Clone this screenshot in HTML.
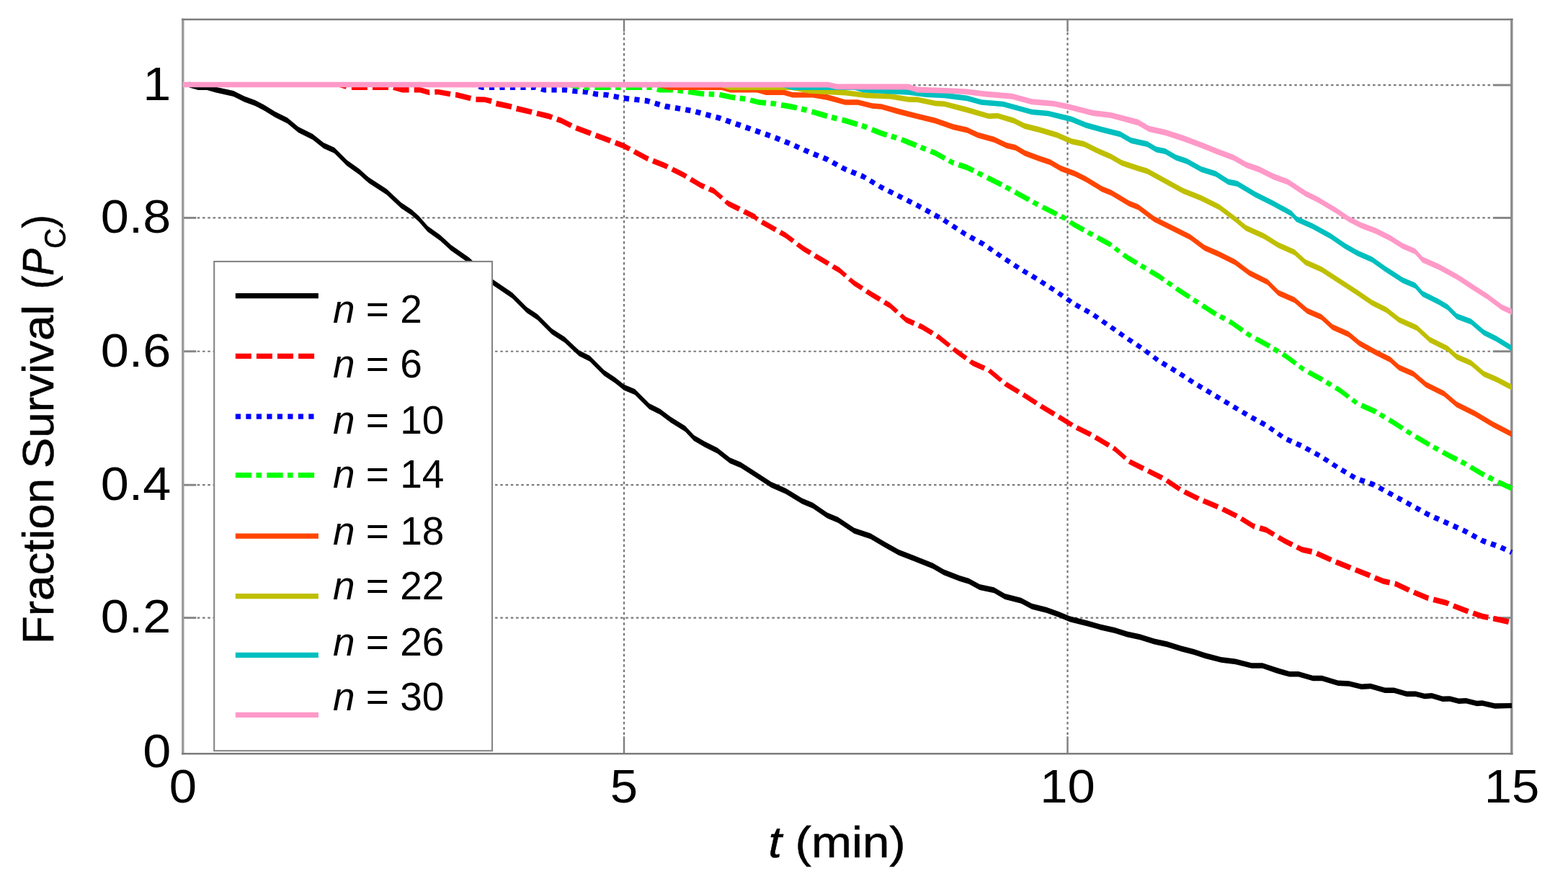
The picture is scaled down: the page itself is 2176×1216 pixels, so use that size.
<!DOCTYPE html>
<html lang="en">
<head>
<meta charset="utf-8">
<title>Fraction Survival vs t</title>
<style>
html,body{margin:0;padding:0;background:#fff;}
body{width:2176px;height:1216px;overflow:hidden;}
svg{display:block;}
text{font-family:"Liberation Sans",sans-serif;fill:#000;}
.tick{font-size:65px;}
.lab{font-size:62px;stroke:#000;stroke-width:0.5px;}
.leg{font-size:55px;}
.it{font-style:italic;}
</style>
</head>
<body>
<svg width="2176" height="1216" viewBox="0 0 2176 1216">
<rect x="0" y="0" width="2176" height="1216" fill="#ffffff"/>
<defs><clipPath id="plot"><rect x="252.60000000000002" y="27.0" width="1846.6000000000001" height="1019.3"/></clipPath></defs>

<g fill="none" stroke="#7a7a7a" stroke-width="2.2" stroke-dasharray="3.5 3.75">
<line x1="273.8" y1="118.1" x2="2071.8" y2="118.1"/>
<line x1="273.8" y1="302.4" x2="2071.8" y2="302.4"/>
<line x1="273.8" y1="487.75" x2="2071.8" y2="487.75"/>
<line x1="273.8" y1="673.2" x2="2071.8" y2="673.2"/>
<line x1="273.8" y1="857.6" x2="2071.8" y2="857.6"/>
</g>
<g fill="none" stroke="#747474" stroke-width="2.2" stroke-dasharray="3.4 3.85">
<line x1="866.0" y1="45.0" x2="866.0" y2="1022.3"/>
<line x1="1481.5" y1="45.0" x2="1481.5" y2="1022.3"/>
</g>
<g fill="none" stroke="#858585" stroke-width="2.9">
<line x1="253.8" y1="118.1" x2="272.3" y2="118.1"/>
<line x1="2071.8" y1="118.1" x2="2097.8" y2="118.1"/>
<line x1="253.8" y1="302.4" x2="272.3" y2="302.4"/>
<line x1="2071.8" y1="302.4" x2="2097.8" y2="302.4"/>
<line x1="253.8" y1="487.75" x2="272.3" y2="487.75"/>
<line x1="2071.8" y1="487.75" x2="2097.8" y2="487.75"/>
<line x1="253.8" y1="673.2" x2="272.3" y2="673.2"/>
<line x1="2071.8" y1="673.2" x2="2097.8" y2="673.2"/>
<line x1="253.8" y1="857.6" x2="272.3" y2="857.6"/>
<line x1="2071.8" y1="857.6" x2="2097.8" y2="857.6"/>
</g>
<g fill="none" stroke="#7d7d7d" stroke-width="2.4">
<line x1="866.0" y1="27.0" x2="866.0" y2="44.0"/>
<line x1="866.0" y1="1022.3" x2="866.0" y2="1046.3"/>
<line x1="1481.5" y1="27.0" x2="1481.5" y2="44.0"/>
<line x1="1481.5" y1="1022.3" x2="1481.5" y2="1046.3"/>
</g>
<line x1="253.8" y1="25.7" x2="253.8" y2="1047.6" stroke="#9a9a9a" stroke-width="3.4"/>
<line x1="2097.8" y1="25.7" x2="2097.8" y2="1047.6" stroke="#8c8c8c" stroke-width="3.4"/>
<line x1="252.10000000000002" y1="27.0" x2="2099.5" y2="27.0" stroke="#7c7c7c" stroke-width="2.6"/>
<line x1="252.10000000000002" y1="1046.3" x2="2099.5" y2="1046.3" stroke="#7c7c7c" stroke-width="2.6"/>
<g clip-path="url(#plot)" stroke="none">
<polygon fill="#000000" points="262.7,113.6 275.0,117.4 287.3,117.4 299.6,120.7 324.0,126.0 339.0,133.5 354.0,139.0 366.5,145.5 381.5,154.8 399.0,163.5 414.0,176.0 434.0,186.0 449.0,198.0 464.0,204.8 481.5,222.3 499.0,234.8 511.5,246.0 536.5,262.3 556.5,281.0 571.5,291.0 581.5,300.0 593.5,313.8 611.0,326.3 626.0,340.0 651.0,357.5 683.5,387.5 711.0,406.3 731.0,426.3 746.0,436.3 766.0,456.3 783.5,467.5 803.5,486.3 818.5,493.8 838.5,513.8 853.5,523.8 866.0,533.8 881.0,540.0 901.0,560.0 916.0,567.5 931.0,578.8 951.0,591.3 963.0,604.0 978.0,612.8 995.5,621.5 1013.0,635.3 1028.0,641.5 1045.5,652.8 1070.5,669.0 1090.5,677.8 1113.0,691.5 1128.0,697.8 1148.0,711.5 1163.0,717.8 1185.5,732.8 1208.0,740.3 1227.0,751.5 1247.0,762.8 1269.5,771.5 1294.5,781.5 1309.5,790.3 1332.0,799.0 1344.5,802.8 1359.5,811.0 1379.5,815.3 1394.5,824.0 1417.0,829.8 1432.0,837.8 1452.0,842.8 1469.5,849.0 1484.5,855.3 1509.5,861.5 1527.0,866.6 1547.0,871.0 1564.5,876.5 1582.0,880.3 1602.0,886.5 1619.5,890.3 1639.5,896.5 1657.0,901.0 1672.0,906.0 1694.5,911.9 1714.5,914.4 1737.0,920.2 1752.0,920.2 1772.0,926.8 1789.5,932.0 1802.0,932.0 1822.0,937.7 1834.5,937.7 1857.0,944.5 1872.0,945.2 1889.5,949.6 1902.0,948.7 1922.0,954.5 1934.5,954.5 1952.0,959.5 1964.5,959.5 1977.0,962.8 1987.0,962.0 2002.0,966.5 2012.0,966.2 2024.5,969.6 2034.5,969.1 2049.5,972.8 2057.0,972.3 2074.5,976.3 2098.0,975.9 2098.0,983.1 2074.5,983.7 2057.0,979.7 2049.5,980.2 2034.5,976.5 2024.5,977.0 2012.0,973.8 2002.0,974.1 1987.0,969.6 1977.0,970.2 1964.5,967.1 1952.0,967.1 1934.5,962.1 1922.0,962.1 1902.0,956.3 1889.5,957.0 1872.0,952.8 1857.0,952.1 1834.5,945.3 1822.0,945.3 1802.0,939.6 1789.5,939.6 1772.0,934.8 1752.0,927.8 1737.0,927.8 1714.5,922.2 1694.5,919.7 1672.0,914.0 1657.0,909.0 1639.5,904.5 1619.5,898.3 1602.0,894.5 1582.0,888.3 1564.5,884.5 1547.0,879.0 1527.0,874.4 1509.5,869.5 1484.5,863.3 1469.5,857.0 1452.0,850.8 1432.0,845.8 1417.0,837.8 1394.5,832.0 1379.5,823.3 1359.5,819.0 1344.5,810.8 1332.0,807.0 1309.5,798.3 1294.5,789.5 1269.5,779.5 1247.0,770.8 1227.0,759.5 1208.0,748.3 1185.5,740.8 1163.0,725.8 1148.0,719.5 1128.0,705.8 1113.0,699.5 1090.5,685.8 1070.5,677.0 1045.5,660.8 1028.0,649.5 1013.0,643.3 995.5,629.5 978.0,620.8 963.0,612.0 951.0,599.3 931.0,586.8 916.0,575.5 901.0,568.0 881.0,548.0 866.0,541.8 853.5,531.8 838.5,521.8 818.5,501.8 803.5,494.3 783.5,475.5 766.0,464.3 746.0,444.3 731.0,434.3 711.0,414.3 683.5,395.5 651.0,365.5 626.0,348.0 611.0,334.3 593.5,321.8 581.5,308.0 571.5,299.0 556.5,289.0 536.5,270.3 511.5,254.0 499.0,242.8 481.5,230.3 464.0,212.8 449.0,206.0 434.0,194.0 414.0,184.0 399.0,171.5 381.5,162.8 366.5,153.5 354.0,147.0 339.0,141.5 324.0,134.0 299.6,128.5 287.3,124.9 275.0,124.9 262.7,121.6"/>
<path fill="#ff0000" d="M473.5 114.2 481.9 116.7 479.9 123.7 471.5 121.2ZM487.9 117.4 509.9 117.4 509.9 124.9 487.9 124.9ZM517.0 117.4 539.0 117.4 539.0 124.9 517.0 124.9ZM547.1 117.7 558.2 120.9 567.6 120.9 567.6 128.5 558.2 128.5 545.1 124.7ZM574.7 120.9 582.8 120.9 595.1 124.5 596.0 124.5 596.4 131.9 595.1 132.0 582.8 128.5 574.7 128.5ZM603.1 124.1 608.0 123.9 625.7 127.0 624.3 134.3 608.0 131.3 603.5 131.5ZM632.4 127.6 632.2 127.6 654.3 133.0 652.5 140.3 632.2 135.2 631.7 135.2ZM660.5 134.3 672.7 134.4 683.0 136.8 681.2 144.3 672.7 142.0 660.3 141.7ZM689.3 139.8 710.8 144.4 709.2 152.1 687.7 147.4ZM717.6 146.8 739.0 151.9 737.2 159.3 715.8 154.4ZM745.9 153.7 746.3 153.8 762.0 157.5 767.5 159.4 765.0 166.5 762.0 165.5 746.3 161.6 744.0 161.1ZM774.2 161.8 779.0 163.5 794.5 171.3 791.3 177.7 779.0 171.5 771.7 168.9ZM800.6 174.0 821.3 181.7 818.6 188.7 798.0 181.0ZM827.9 184.2 848.5 192.0 845.8 199.0 825.3 191.2ZM855.1 194.5 865.5 198.5 875.5 203.9 872.2 210.1 865.5 206.5 852.5 201.5ZM881.8 207.3 898.0 216.0 900.9 217.2 898.2 224.1 898.0 224.0 878.4 213.5ZM907.5 219.8 923.0 226.0 928.0 228.5 924.8 234.9 923.0 234.0 904.7 226.7ZM934.4 231.7 948.0 238.5 954.0 242.1 950.5 248.0 948.0 246.5 931.2 238.1ZM960.1 245.8 973.0 253.5 979.0 256.1 976.1 262.8 973.0 261.5 956.6 251.7ZM985.5 258.9 990.5 261.0 1003.8 272.6 999.8 277.1 990.5 269.0 982.6 265.6ZM1009.1 277.3 1010.5 278.5 1027.8 287.1 1024.5 293.5 1010.5 286.5 1005.1 281.8ZM1034.1 290.3 1048.0 297.3 1050.0 300.0 1052.8 301.6 1049.4 307.7 1050.0 308.0 1048.0 305.3 1030.9 296.7ZM1059.0 305.1 1078.2 315.9 1074.8 321.9 1055.6 311.2ZM1084.4 319.3 1090.0 322.5 1102.8 332.1 1098.9 337.2 1090.0 330.5 1081.0 325.4ZM1108.5 336.4 1115.0 341.3 1126.6 348.2 1123.0 354.1 1115.0 349.3 1104.6 341.5ZM1132.6 351.9 1140.0 356.3 1151.5 363.2 1148.0 369.1 1140.0 364.3 1129.1 357.8ZM1157.6 366.9 1165.0 371.3 1175.5 380.5 1171.5 385.0 1165.0 379.3 1154.1 372.7ZM1180.8 385.2 1185.0 388.8 1198.4 397.5 1194.8 403.1 1185.0 396.8 1176.9 389.7ZM1204.4 401.4 1210.0 405.0 1223.0 412.8 1219.5 418.7 1210.0 413.0 1200.7 407.0ZM1229.1 416.5 1235.0 420.0 1246.8 430.5 1242.8 434.9 1235.0 428.0 1225.6 422.4ZM1252.1 435.2 1257.5 440.0 1270.0 445.6 1267.1 452.2 1257.5 448.0 1248.1 439.6ZM1276.5 448.5 1280.0 450.0 1295.9 459.8 1292.3 465.6 1280.0 458.0 1273.5 455.1ZM1302.0 463.5 1302.5 463.8 1319.5 477.4 1315.6 482.3 1302.5 471.8 1298.4 469.3ZM1325.0 481.8 1327.5 483.8 1342.7 494.7 1338.9 500.0 1327.5 491.8 1321.1 486.7ZM1348.4 498.9 1350.0 500.0 1367.7 507.9 1364.7 514.5 1350.0 508.0 1344.6 504.1ZM1374.6 511.8 1391.5 525.9 1387.6 530.6 1370.7 516.5ZM1397.0 530.4 1395.0 528.8 1415.6 541.2 1412.1 547.1 1395.0 536.8 1393.0 535.1ZM1421.7 544.8 1420.0 543.8 1440.2 556.9 1436.6 562.5 1420.0 551.8 1418.2 550.7ZM1446.2 560.8 1445.0 560.0 1465.0 572.0 1461.5 577.9 1445.0 568.0 1442.5 566.4ZM1471.1 575.6 1470.0 575.0 1489.8 587.4 1486.2 593.1 1470.0 583.0 1467.5 581.5ZM1495.8 590.4 1515.5 600.2 1512.3 606.6 1492.6 596.8ZM1521.8 604.0 1540.7 615.3 1537.2 621.2 1518.3 609.9ZM1546.8 618.9 1547.0 619.0 1563.8 633.7 1559.9 638.3 1547.0 627.0 1543.3 624.8ZM1568.8 637.4 1588.5 647.3 1585.3 653.7 1565.6 643.8ZM1594.9 650.4 1614.5 660.3 1611.3 666.7 1591.7 656.8ZM1621.0 664.2 1639.3 676.4 1635.6 681.9 1617.3 669.7ZM1645.2 679.4 1664.9 689.2 1661.7 695.6 1642.0 685.8ZM1671.2 691.8 1691.6 700.3 1688.7 707.1 1668.4 698.6ZM1698.2 703.4 1717.9 713.2 1714.7 719.6 1695.0 709.8ZM1724.3 717.0 1739.5 726.5 1742.4 727.3 1740.3 734.7 1739.5 734.5 1720.7 722.7ZM1749.2 729.3 1757.0 731.5 1769.8 739.2 1766.2 745.0 1757.0 739.5 1747.1 736.7ZM1775.9 742.8 1782.0 746.5 1795.0 753.0 1791.8 759.4 1782.0 754.5 1772.3 748.7ZM1801.4 756.2 1807.0 759.0 1821.4 762.1 1819.8 769.8 1807.0 767.0 1798.2 762.6ZM1828.8 764.8 1848.9 773.9 1845.9 780.5 1825.8 771.4ZM1855.2 776.6 1875.7 784.8 1872.9 791.7 1852.5 783.5ZM1882.3 787.4 1902.7 795.6 1899.9 802.5 1879.5 794.3ZM1909.3 798.4 1919.5 802.8 1929.4 804.9 1927.8 812.6 1919.5 810.8 1906.4 805.2ZM1936.4 806.4 1937.0 806.5 1957.1 816.0 1954.0 822.6 1937.0 814.5 1934.8 814.0ZM1963.5 818.7 1982.0 826.5 1983.3 826.8 1981.4 834.4 1982.0 834.5 1960.6 825.5ZM1990.2 828.6 2007.0 832.8 2011.8 834.7 2009.0 841.6 2007.0 840.8 1988.3 836.1ZM2018.4 837.4 2032.0 842.8 2038.8 845.2 2036.3 852.3 2032.0 850.8 2015.6 844.3ZM2045.5 847.5 2057.0 851.5 2066.1 853.4 2064.6 861.0 2057.0 859.5 2043.0 854.6ZM2073.0 854.8 2082.0 856.6 2094.7 859.6 2092.9 867.0 2082.0 864.4 2071.5 862.3Z"/>
<path fill="#0000ff" d="M658.2 114.2 658.6 114.3 656.6 121.4 656.2 121.2ZM665.6 116.4 669.0 117.4 671.6 117.4 671.6 124.9 669.0 124.9 663.6 123.4ZM678.9 117.4 686.1 117.4 686.1 124.9 678.9 124.9ZM693.4 117.4 700.6 117.4 700.6 124.9 693.4 124.9ZM707.9 117.4 715.1 117.4 715.1 124.9 707.9 124.9ZM722.4 117.4 729.6 117.4 729.6 124.9 722.4 124.9ZM736.9 117.4 742.9 117.4 745.1 118.0 743.0 125.0 742.9 124.9 736.9 124.9ZM752.1 120.0 755.2 120.9 758.1 120.9 758.1 128.5 755.2 128.5 750.1 127.0ZM765.4 121.0 772.6 121.0 772.6 128.5 765.4 128.5ZM779.9 121.1 784.0 121.1 787.5 121.5 786.7 128.8 784.0 128.5 779.9 128.5ZM794.8 122.4 798.5 122.8 801.7 123.0 801.3 130.4 798.5 130.2 793.9 129.7ZM809.0 123.4 812.9 123.6 816.7 124.5 815.1 131.7 812.9 131.2 808.5 130.9ZM823.8 126.1 827.0 126.8 830.4 127.1 829.8 134.6 827.0 134.4 822.2 133.3ZM837.7 127.7 841.9 128.0 845.2 128.6 843.8 135.9 841.9 135.6 837.1 135.2ZM852.4 130.0 859.5 131.4 858.1 138.7 851.0 137.3ZM866.4 132.6 873.5 133.4 872.7 140.9 865.5 140.1ZM880.8 134.2 887.9 135.0 887.1 142.6 879.9 141.8ZM895.2 135.8 898.0 136.1 902.8 137.6 900.7 144.7 898.0 143.9 894.3 143.4ZM909.8 139.7 916.7 141.7 914.6 148.9 907.7 146.8ZM923.7 143.8 923.0 143.6 930.4 144.8 929.1 152.4 923.0 151.4 921.6 151.0ZM937.6 146.0 944.7 147.2 943.4 154.8 936.3 153.6ZM951.9 148.5 959.0 149.7 957.7 157.2 950.6 156.0ZM966.4 151.5 973.4 153.3 971.4 160.6 964.5 158.8ZM980.4 155.2 987.4 157.0 985.4 164.4 978.5 162.5ZM994.4 158.9 998.0 159.8 1001.6 161.1 999.1 168.2 998.0 167.8 992.5 166.3ZM1008.5 163.5 1015.3 165.8 1012.8 173.0 1006.0 170.6ZM1022.2 168.2 1023.0 168.5 1029.0 170.6 1026.5 177.7 1023.0 176.5 1019.7 175.4ZM1035.9 173.0 1042.7 175.4 1040.2 182.5 1033.4 180.2ZM1049.5 177.8 1056.3 180.2 1053.9 187.3 1047.1 185.0ZM1063.2 182.6 1070.0 185.0 1067.6 192.1 1060.8 189.7ZM1077.0 187.6 1083.7 190.3 1080.9 197.2 1074.3 194.5ZM1090.5 193.0 1097.2 195.7 1094.4 202.6 1087.7 199.9ZM1104.0 198.7 1110.5 201.7 1107.5 208.3 1101.0 205.3ZM1117.2 204.7 1123.8 207.6 1120.8 214.3 1114.2 211.3ZM1130.4 210.3 1137.1 212.9 1134.3 219.8 1127.6 217.2ZM1143.9 215.6 1148.0 217.3 1150.8 218.8 1147.4 225.0 1148.0 225.3 1141.1 222.5ZM1157.2 222.3 1163.5 225.8 1160.1 232.0 1153.8 228.5ZM1169.9 229.3 1173.0 231.0 1176.0 232.2 1173.2 239.1 1173.0 239.0 1166.5 235.5ZM1182.8 234.9 1189.5 237.6 1186.7 244.5 1180.0 241.8ZM1196.2 240.3 1198.0 241.0 1203.0 244.0 1199.5 249.9 1198.0 249.0 1193.5 247.2ZM1209.3 247.8 1215.5 251.5 1212.0 257.4 1205.8 253.7ZM1221.7 255.2 1223.0 256.0 1227.9 258.4 1224.7 264.8 1223.0 264.0 1218.2 261.1ZM1234.4 261.7 1240.9 264.9 1237.7 271.3 1231.2 268.1ZM1247.4 268.2 1248.0 268.5 1253.8 271.4 1250.6 277.8 1248.0 276.5 1244.2 274.6ZM1260.4 274.7 1266.8 277.9 1263.6 284.3 1257.2 281.1ZM1273.3 281.2 1273.0 281.0 1279.7 284.7 1276.4 290.9 1273.0 289.0 1270.1 287.6ZM1286.1 288.3 1292.4 291.7 1289.1 297.9 1282.8 294.4ZM1298.8 295.3 1298.0 294.8 1305.1 298.7 1301.8 304.9 1298.0 302.8 1295.4 301.4ZM1311.6 302.7 1317.6 306.6 1313.9 312.2 1307.9 308.3ZM1323.7 310.6 1329.7 314.6 1326.1 320.2 1320.0 316.2ZM1335.8 318.6 1340.0 321.3 1341.7 322.2 1338.3 328.4 1340.0 329.3 1332.2 324.2ZM1348.1 325.7 1354.4 329.2 1351.1 335.4 1344.7 331.9ZM1360.8 332.7 1365.0 335.0 1367.3 336.6 1363.5 342.0 1365.0 343.0 1357.5 338.9ZM1373.3 340.8 1379.2 344.9 1375.4 350.3 1369.5 346.2ZM1385.2 349.1 1391.1 353.2 1387.3 358.6 1381.4 354.5ZM1397.1 357.1 1403.1 361.1 1399.5 366.7 1393.4 362.7ZM1409.3 365.1 1415.3 369.0 1411.6 374.6 1405.6 370.7ZM1421.4 372.7 1427.6 376.4 1424.1 382.3 1417.9 378.5ZM1433.9 380.1 1440.1 383.8 1436.5 389.7 1430.3 386.0ZM1446.3 387.9 1452.3 391.8 1448.7 397.4 1442.6 393.5ZM1458.4 395.8 1464.5 399.7 1460.8 405.3 1454.8 401.4ZM1470.6 403.9 1476.5 408.0 1472.7 413.4 1466.8 409.3ZM1482.5 412.2 1488.4 416.3 1484.6 421.7 1478.7 417.6ZM1494.3 419.9 1500.6 423.4 1497.2 429.5 1490.9 426.0ZM1507.0 426.9 1513.3 430.4 1509.9 436.5 1503.6 433.0ZM1519.7 434.6 1525.6 438.7 1521.8 444.1 1515.9 440.0ZM1531.6 442.9 1537.5 447.0 1533.7 452.4 1527.8 448.3ZM1543.5 451.2 1549.4 455.3 1545.6 460.7 1539.7 456.6ZM1555.3 459.5 1561.2 463.7 1557.5 469.0 1551.6 464.9ZM1567.2 467.7 1573.2 471.7 1569.5 477.3 1563.5 473.3ZM1579.3 475.7 1585.3 479.7 1581.6 485.2 1575.6 481.3ZM1591.3 484.2 1597.0 488.5 1593.2 493.7 1587.4 489.4ZM1602.9 492.9 1608.6 497.2 1604.8 502.4 1599.0 498.0ZM1614.6 500.8 1620.8 504.6 1617.2 510.4 1611.0 506.7ZM1627.0 508.3 1633.2 512.0 1629.7 517.9 1623.5 514.2ZM1639.4 516.0 1645.5 520.0 1641.8 525.6 1635.8 521.7ZM1651.6 524.0 1657.6 527.9 1653.9 533.5 1647.9 529.6ZM1663.7 531.6 1669.9 535.3 1666.4 541.2 1660.2 537.5ZM1676.2 539.1 1682.3 542.8 1678.8 548.7 1672.6 545.0ZM1688.6 546.6 1694.8 550.3 1691.2 556.1 1685.1 552.4ZM1701.0 554.0 1707.2 557.7 1703.7 563.6 1697.5 559.9ZM1713.5 561.5 1719.6 565.2 1716.1 571.1 1709.9 567.4ZM1725.9 568.9 1732.1 572.6 1728.5 578.5 1722.4 574.8ZM1738.3 576.2 1744.6 579.6 1741.2 585.8 1734.9 582.3ZM1751.0 583.1 1757.3 586.6 1754.0 592.7 1747.6 589.3ZM1763.7 590.9 1769.6 595.1 1765.8 600.4 1759.9 596.2ZM1775.5 599.3 1781.3 603.5 1777.6 608.8 1771.7 604.6ZM1787.3 606.4 1793.9 609.4 1790.9 616.0 1784.3 613.0ZM1800.5 612.4 1807.1 615.3 1804.1 622.0 1797.5 619.0ZM1813.7 619.0 1820.0 622.4 1816.7 628.6 1810.3 625.1ZM1826.4 625.9 1832.7 629.4 1829.4 635.6 1823.1 632.1ZM1839.0 633.6 1845.1 637.5 1841.4 643.1 1835.4 639.2ZM1851.2 641.5 1857.2 645.4 1853.6 651.1 1847.5 647.1ZM1863.4 649.1 1869.6 652.8 1866.0 658.7 1859.8 655.0ZM1875.8 656.6 1882.0 660.3 1878.5 666.2 1872.3 662.5ZM1888.2 662.4 1895.0 664.8 1892.5 672.0 1885.7 669.6ZM1901.9 667.2 1907.0 669.0 1909.1 670.2 1905.7 676.3 1907.0 677.0 1899.4 674.4ZM1915.5 673.7 1921.8 677.2 1918.4 683.3 1912.1 679.8ZM1928.2 680.7 1932.0 682.8 1934.5 684.2 1931.1 690.3 1932.0 690.8 1924.8 686.8ZM1940.9 687.7 1947.2 691.1 1943.8 697.3 1937.5 693.8ZM1953.6 694.6 1957.0 696.5 1959.9 698.1 1956.5 704.2 1957.0 704.5 1950.2 700.8ZM1966.3 701.6 1972.6 705.1 1969.2 711.2 1962.9 707.8ZM1979.0 708.6 1982.0 710.3 1985.2 711.7 1982.2 718.4 1982.0 718.3 1975.6 714.8ZM1991.8 714.7 1998.4 717.6 1995.4 724.3 1988.8 721.4ZM2005.1 720.6 2007.0 721.5 2011.6 723.6 2008.6 730.2 2007.0 729.5 2002.1 727.3ZM2018.3 726.6 2024.9 729.6 2021.8 736.2 2015.3 733.2ZM2031.5 732.6 2032.0 732.8 2038.1 736.1 2034.7 742.3 2032.0 740.8 2028.5 739.2ZM2044.5 739.6 2050.8 743.1 2047.4 749.3 2041.1 745.8ZM2057.2 746.6 2057.0 746.5 2063.4 748.8 2060.9 755.9 2057.0 754.5 2053.8 752.8ZM2070.3 751.2 2077.1 753.6 2074.6 760.7 2067.8 758.3ZM2084.3 756.4 2090.8 759.4 2087.7 766.0 2081.2 762.9ZM2097.4 762.5 2099.5 763.5 2096.5 770.1 2094.3 769.1Z"/>
<path fill="#00ff00" d="M793.6 114.2 805.1 117.6 803.1 124.6 791.6 121.2ZM810.5 117.4 818.1 117.4 818.1 124.9 810.5 124.9ZM825.3 117.4 847.6 117.4 847.6 124.9 825.3 124.9ZM854.0 117.4 861.6 117.4 861.6 124.9 854.0 124.9ZM868.8 117.4 891.1 117.4 891.1 124.9 868.8 124.9ZM897.5 117.4 902.9 117.4 906.0 118.2 904.0 125.3 902.9 124.9 897.5 124.9ZM912.9 120.2 915.2 120.9 934.0 121.1 934.5 121.2 933.7 128.4 934.0 128.5 915.2 128.5 910.9 127.2ZM940.9 121.8 948.0 122.5 948.6 122.6 947.5 130.0 948.0 130.1 940.1 129.2ZM955.7 123.7 973.0 126.3 977.4 126.5 977.0 134.0 973.0 133.7 954.6 131.0ZM983.8 126.8 991.4 127.2 991.0 134.7 983.4 134.3ZM999.2 127.8 1015.5 131.2 1020.8 131.8 1019.8 139.4 1015.5 138.8 997.6 135.0ZM1027.1 132.6 1034.7 133.5 1033.7 141.1 1026.2 140.2ZM1042.1 135.4 1053.0 138.2 1063.4 139.1 1062.7 146.7 1053.0 145.8 1040.3 142.6ZM1069.8 139.7 1073.0 140.0 1077.6 140.8 1076.3 148.1 1073.0 147.6 1069.1 147.2ZM1084.7 141.9 1098.0 144.1 1106.8 146.2 1105.1 153.5 1098.0 151.9 1083.4 149.4ZM1113.1 147.6 1120.5 149.3 1118.7 156.8 1111.3 155.0ZM1127.6 151.2 1149.0 157.6 1146.8 164.9 1125.5 158.5ZM1155.0 159.1 1162.4 160.9 1160.6 168.4 1153.2 166.6ZM1169.4 162.6 1173.0 163.5 1191.0 168.9 1188.8 176.2 1173.0 171.5 1167.6 170.1ZM1197.1 170.7 1198.0 171.0 1204.5 173.6 1201.8 180.5 1198.0 179.0 1194.9 178.1ZM1211.2 176.3 1223.0 181.0 1231.9 183.7 1229.7 191.0 1223.0 189.0 1208.5 183.2ZM1238.0 185.5 1245.3 187.7 1243.1 195.0 1235.8 192.8ZM1252.4 190.2 1273.1 198.5 1270.3 205.4 1249.6 197.1ZM1279.0 200.9 1286.1 203.7 1283.3 210.6 1276.3 207.8ZM1292.8 206.4 1298.0 208.5 1313.0 216.8 1309.6 222.9 1298.0 216.5 1290.0 213.3ZM1318.6 219.9 1323.0 222.3 1324.8 222.9 1322.4 230.1 1323.0 230.3 1315.2 226.0ZM1331.6 225.1 1342.0 228.5 1352.7 233.8 1349.5 240.2 1342.0 236.5 1329.2 232.3ZM1358.4 236.7 1365.2 240.1 1362.0 246.5 1355.2 243.1ZM1371.6 243.3 1391.6 253.3 1388.4 259.7 1368.4 249.7ZM1397.3 256.4 1404.0 260.1 1400.6 266.2 1393.9 262.6ZM1410.3 263.6 1417.0 267.3 1429.8 274.3 1426.4 280.5 1417.0 275.3 1406.9 269.7ZM1435.4 277.4 1442.1 281.0 1438.7 287.2 1432.0 283.5ZM1448.4 284.2 1468.3 294.2 1465.1 300.6 1445.2 290.6ZM1474.1 297.0 1477.0 298.5 1481.0 301.2 1477.2 306.6 1477.0 306.5 1470.9 303.4ZM1486.9 305.3 1490.0 307.5 1505.9 316.3 1502.5 322.4 1490.0 315.5 1483.1 310.7ZM1511.5 319.4 1515.0 321.3 1518.1 323.0 1514.8 329.2 1515.0 329.3 1508.1 325.5ZM1524.5 326.5 1540.0 335.0 1544.0 338.0 1540.2 343.2 1540.0 343.0 1521.1 332.6ZM1549.2 341.9 1555.2 346.5 1551.4 351.6 1545.3 347.0ZM1561.0 350.8 1565.0 353.8 1579.6 362.4 1576.1 368.3 1565.0 361.8 1557.1 355.9ZM1585.1 365.6 1584.0 365.0 1591.6 369.6 1588.1 375.4 1584.0 373.0 1581.6 371.6ZM1597.8 373.3 1609.0 380.0 1616.7 385.4 1613.0 390.8 1609.0 388.0 1594.3 379.2ZM1622.0 389.1 1628.2 393.5 1624.5 398.8 1618.2 394.5ZM1634.1 397.6 1634.0 397.5 1652.7 409.7 1649.0 415.3 1634.0 405.5 1630.4 403.0ZM1658.1 413.2 1659.0 413.8 1664.4 417.3 1660.8 423.0 1659.0 421.8 1654.4 418.8ZM1670.5 421.2 1684.0 430.0 1689.2 432.9 1685.8 439.0 1684.0 438.0 1666.8 426.9ZM1694.8 436.0 1701.5 439.6 1698.1 445.8 1691.4 442.1ZM1707.8 443.1 1709.0 443.8 1726.4 456.0 1722.7 461.4 1709.0 451.8 1704.4 449.3ZM1731.7 459.7 1734.0 461.3 1737.8 463.4 1734.5 469.5 1734.0 469.3 1727.9 465.0ZM1744.1 466.9 1759.0 475.0 1763.7 477.8 1760.2 483.7 1759.0 483.0 1740.8 473.0ZM1769.2 481.1 1775.7 485.0 1772.2 490.9 1765.7 487.0ZM1781.9 488.7 1784.0 490.0 1800.1 502.1 1796.3 507.2 1784.0 498.0 1778.4 494.6ZM1805.2 506.0 1809.0 508.8 1811.1 510.0 1807.8 516.1 1809.0 516.8 1801.4 511.1ZM1817.4 513.4 1834.0 522.5 1837.0 524.3 1833.5 530.2 1834.0 530.5 1814.1 519.6ZM1842.5 527.6 1849.0 531.5 1845.5 537.4 1839.0 533.5ZM1855.2 535.2 1859.0 537.5 1873.6 548.5 1869.7 553.6 1859.0 545.5 1851.7 541.1ZM1878.7 552.3 1884.8 556.9 1880.9 562.0 1874.9 557.4ZM1890.7 559.3 1909.0 567.5 1911.3 568.9 1907.8 574.8 1909.0 575.5 1887.8 566.0ZM1916.8 572.2 1923.3 576.1 1919.8 582.0 1913.3 578.1ZM1929.5 579.8 1934.0 582.5 1948.4 591.9 1944.7 597.5 1934.0 590.5 1926.0 585.7ZM1953.8 595.4 1960.1 599.5 1956.5 605.1 1950.1 601.0ZM1966.2 603.1 1985.4 614.4 1981.9 620.3 1962.7 609.0ZM1990.9 617.5 1997.6 621.1 1994.2 627.3 1987.6 623.6ZM2003.9 624.6 2012.0 629.0 2023.6 634.8 2020.4 641.2 2012.0 637.0 2000.5 630.7ZM2029.3 637.7 2032.0 639.0 2036.2 641.5 2032.6 647.4 2032.0 647.0 2026.1 644.1ZM2042.3 645.2 2057.0 654.0 2061.4 656.2 2058.2 662.6 2057.0 662.0 2038.8 651.1ZM2067.1 659.1 2073.9 662.5 2070.7 668.9 2063.9 665.5ZM2080.4 665.7 2082.0 666.5 2099.5 674.7 2096.5 681.3 2082.0 674.5 2077.2 672.1Z"/>
<polygon fill="#ff4500" points="915.2,113.6 927.6,117.4 1001.4,117.4 1013.7,120.9 1050.7,120.9 1063.0,124.5 1087.6,124.5 1099.9,128.0 1112.0,128.2 1128.0,128.1 1148.0,131.1 1173.0,138.2 1190.5,138.2 1210.5,143.2 1223.0,144.2 1248.0,151.0 1273.0,157.4 1298.0,163.5 1323.0,172.3 1342.0,176.5 1357.0,183.5 1379.5,189.8 1397.0,198.0 1409.5,201.0 1422.0,208.5 1442.0,216.0 1457.0,221.0 1472.0,229.8 1492.0,237.3 1507.0,244.8 1529.5,258.5 1542.0,263.5 1567.0,278.5 1579.5,283.5 1601.5,300.0 1621.5,310.0 1651.5,325.0 1671.5,340.0 1691.5,348.8 1714.0,360.0 1734.0,375.0 1759.0,387.5 1774.0,402.5 1796.5,412.5 1814.0,427.5 1834.0,436.3 1849.0,450.0 1871.5,460.0 1886.5,472.5 1909.0,485.0 1929.0,495.0 1941.5,506.3 1961.5,515.0 1979.0,530.0 2004.0,542.5 2021.5,557.5 2046.5,570.0 2071.5,585.0 2098.0,598.8 2098.0,606.8 2071.5,593.0 2046.5,578.0 2021.5,565.5 2004.0,550.5 1979.0,538.0 1961.5,523.0 1941.5,514.3 1929.0,503.0 1909.0,493.0 1886.5,480.5 1871.5,468.0 1849.0,458.0 1834.0,444.3 1814.0,435.5 1796.5,420.5 1774.0,410.5 1759.0,395.5 1734.0,383.0 1714.0,368.0 1691.5,356.8 1671.5,348.0 1651.5,333.0 1621.5,318.0 1601.5,308.0 1579.5,291.5 1567.0,286.5 1542.0,271.5 1529.5,266.5 1507.0,252.8 1492.0,245.3 1472.0,237.8 1457.0,229.0 1442.0,224.0 1422.0,216.5 1409.5,209.0 1397.0,206.0 1379.5,197.8 1357.0,191.5 1342.0,184.5 1323.0,180.3 1298.0,171.5 1273.0,165.2 1248.0,159.0 1223.0,151.8 1210.5,150.8 1190.5,145.8 1173.0,145.8 1148.0,138.9 1128.0,135.5 1112.0,135.4 1099.9,135.6 1087.6,132.0 1063.0,132.0 1050.7,128.5 1013.7,128.5 1001.4,124.9 927.6,124.9 915.2,121.6"/>
<polygon fill="#bfbf00" points="1001.4,113.6 1013.7,117.4 1099.0,117.5 1123.0,122.2 1173.0,125.1 1203.0,128.8 1235.5,130.1 1260.5,134.3 1273.0,134.5 1298.0,139.7 1310.5,140.5 1342.0,148.5 1372.0,157.5 1384.5,157.0 1407.0,163.5 1422.0,171.0 1442.0,176.0 1467.0,183.5 1487.0,192.3 1504.5,196.0 1522.0,204.8 1542.0,213.5 1557.0,222.3 1579.5,229.8 1592.0,233.5 1617.0,247.3 1642.0,261.0 1667.0,271.0 1692.0,283.5 1714.0,300.0 1729.0,312.5 1754.0,323.8 1774.0,336.3 1796.5,346.3 1811.5,360.0 1834.0,370.0 1859.0,386.3 1884.0,402.5 1904.0,416.3 1924.0,426.3 1941.5,440.0 1966.5,451.3 1984.0,467.5 2009.0,480.0 2021.5,491.3 2041.5,500.0 2059.0,515.0 2076.5,522.5 2098.0,533.8 2098.0,541.8 2076.5,530.5 2059.0,523.0 2041.5,508.0 2021.5,499.3 2009.0,488.0 1984.0,475.5 1966.5,459.3 1941.5,448.0 1924.0,434.3 1904.0,424.3 1884.0,410.5 1859.0,394.3 1834.0,378.0 1811.5,368.0 1796.5,354.3 1774.0,344.3 1754.0,331.8 1729.0,320.5 1714.0,308.0 1692.0,291.5 1667.0,279.0 1642.0,269.0 1617.0,255.3 1592.0,241.5 1579.5,237.8 1557.0,230.3 1542.0,221.5 1522.0,212.8 1504.5,204.0 1487.0,200.3 1467.0,191.5 1442.0,184.0 1422.0,179.0 1407.0,171.5 1384.5,164.6 1372.0,165.1 1342.0,156.5 1310.5,148.1 1298.0,147.3 1273.0,142.1 1260.5,141.7 1235.5,137.5 1203.0,136.2 1173.0,132.5 1123.0,129.8 1099.0,124.9 1013.7,124.9 1001.4,121.6"/>
<polygon fill="#00bfbf" points="1087.6,113.6 1099.9,117.4 1186.1,117.4 1198.4,120.9 1260.5,124.3 1285.5,127.6 1310.5,128.8 1342.0,132.4 1362.0,138.2 1392.0,140.7 1432.0,151.7 1454.5,153.7 1487.0,161.5 1507.0,169.8 1529.5,176.0 1554.5,182.3 1569.5,191.0 1592.0,196.0 1604.5,203.5 1617.0,206.0 1632.0,214.8 1647.0,219.8 1667.0,231.0 1687.0,237.3 1704.5,248.5 1717.0,251.0 1742.0,266.0 1767.0,278.5 1792.0,292.3 1799.0,300.0 1821.5,310.0 1846.5,323.8 1866.5,337.5 1884.0,347.5 1904.0,356.3 1921.5,368.8 1946.5,385.0 1964.0,392.5 1974.0,403.8 1996.5,415.0 2009.0,422.5 2021.5,435.0 2041.5,442.5 2059.0,457.5 2076.5,466.3 2098.0,479.5 2098.0,487.5 2076.5,474.3 2059.0,465.5 2041.5,450.5 2021.5,443.0 2009.0,430.5 1996.5,423.0 1974.0,411.8 1964.0,400.5 1946.5,393.0 1921.5,376.8 1904.0,364.3 1884.0,355.5 1866.5,345.5 1846.5,331.8 1821.5,318.0 1799.0,308.0 1792.0,300.3 1767.0,286.5 1742.0,274.0 1717.0,259.0 1704.5,256.5 1687.0,245.3 1667.0,239.0 1647.0,227.8 1632.0,222.8 1617.0,214.0 1604.5,211.5 1592.0,204.0 1569.5,199.0 1554.5,190.3 1529.5,184.0 1507.0,177.8 1487.0,169.5 1454.5,161.3 1432.0,159.3 1392.0,148.3 1362.0,145.8 1342.0,140.2 1310.5,136.2 1285.5,135.0 1260.5,131.7 1198.4,128.5 1186.1,124.9 1099.9,124.9 1087.6,121.6"/>
<polygon fill="#ff99c8" points="253.8,113.8 1149.2,113.7 1161.5,116.5 1260.0,116.4 1272.3,120.4 1323.0,122.5 1342.0,123.5 1367.0,126.6 1404.5,129.8 1432.0,137.3 1462.0,139.9 1482.0,143.9 1517.0,153.0 1542.0,156.0 1579.5,165.8 1594.5,174.7 1617.0,179.7 1642.0,187.8 1667.0,197.2 1692.0,207.2 1712.0,214.7 1729.5,224.7 1747.0,230.8 1767.0,240.8 1787.0,248.3 1812.0,264.7 1829.5,273.4 1854.5,288.4 1871.5,299.9 1889.0,308.7 1909.0,316.2 1929.0,326.2 1946.5,337.4 1964.0,344.9 1974.0,356.2 1996.5,366.2 2021.5,379.9 2046.5,396.2 2064.0,407.4 2084.0,422.4 2098.0,428.7 2098.0,436.9 2084.0,430.6 2064.0,415.6 2046.5,404.4 2021.5,388.1 1996.5,374.4 1974.0,364.4 1964.0,353.1 1946.5,345.6 1929.0,334.4 1909.0,324.4 1889.0,316.9 1871.5,308.1 1854.5,296.6 1829.5,281.6 1812.0,272.9 1787.0,256.6 1767.0,249.2 1747.0,239.2 1729.5,233.0 1712.0,223.0 1692.0,215.5 1667.0,205.5 1642.0,196.2 1617.0,187.9 1594.5,183.0 1579.5,174.2 1542.0,164.0 1517.0,161.0 1482.0,152.1 1462.0,147.7 1432.0,145.3 1404.5,137.8 1367.0,134.4 1342.0,131.3 1323.0,130.1 1272.3,128.4 1260.0,124.4 1161.5,124.3 1149.2,121.5 253.8,121.3"/>
</g>
<rect x="297.2" y="363.0" width="385.8" height="679.2" fill="#ffffff" stroke="#858585" stroke-width="2.1"/>
<line x1="326.8" y1="410.6" x2="441.9" y2="410.6" stroke="#000000" stroke-width="7.3"/>
<text class="leg" x="462" y="448"><tspan class="it">n</tspan> = 2</text>
<line x1="326.8" y1="494.4" x2="441.9" y2="494.4" stroke="#ff0000" stroke-width="7.3" stroke-dasharray="22 7.1"/>
<text class="leg" x="462" y="523.5"><tspan class="it">n</tspan> = 6</text>
<line x1="326.8" y1="578.1" x2="441.9" y2="578.1" stroke="#0000ff" stroke-width="7.3" stroke-dasharray="7.2 7.3"/>
<text class="leg" x="462" y="601.9"><tspan class="it">n</tspan> = 10</text>
<line x1="326.8" y1="659.6" x2="441.9" y2="659.6" stroke="#00ff00" stroke-width="7.3" stroke-dasharray="22.3 6.4 7.6 7.2"/>
<text class="leg" x="462" y="677.4"><tspan class="it">n</tspan> = 14</text>
<line x1="326.8" y1="744.1" x2="441.9" y2="744.1" stroke="#ff4500" stroke-width="7.3"/>
<text class="leg" x="462" y="755.7"><tspan class="it">n</tspan> = 18</text>
<line x1="326.8" y1="827.6" x2="441.9" y2="827.6" stroke="#bfbf00" stroke-width="7.3"/>
<text class="leg" x="462" y="832"><tspan class="it">n</tspan> = 22</text>
<line x1="326.8" y1="909.3" x2="441.9" y2="909.3" stroke="#00bfbf" stroke-width="7.3"/>
<text class="leg" x="462" y="909.6"><tspan class="it">n</tspan> = 26</text>
<line x1="326.8" y1="992.4" x2="441.9" y2="992.4" stroke="#ff99c8" stroke-width="7.3"/>
<text class="leg" x="462" y="986"><tspan class="it">n</tspan> = 30</text>
<text class="tick" transform="translate(237.4,138.9) scale(1.08,1)" text-anchor="end">1</text>
<text class="tick" transform="translate(237.4,323.2) scale(1.08,1)" text-anchor="end">0.8</text>
<text class="tick" transform="translate(237.4,508.6) scale(1.08,1)" text-anchor="end">0.6</text>
<text class="tick" transform="translate(237.4,694.0) scale(1.08,1)" text-anchor="end">0.4</text>
<text class="tick" transform="translate(237.4,878.4) scale(1.08,1)" text-anchor="end">0.2</text>
<text class="tick" transform="translate(237.4,1065.2) scale(1.08,1)" text-anchor="end">0</text>
<text class="tick" transform="translate(253.8,1113.6) scale(1.06,1)" text-anchor="middle">0</text>
<text class="tick" transform="translate(866,1113.6) scale(1.06,1)" text-anchor="middle">5</text>
<text class="tick" transform="translate(1481.5,1113.6) scale(1.06,1)" text-anchor="middle">10</text>
<text class="tick" transform="translate(2098,1113.6) scale(1.06,1)" text-anchor="middle">15</text>
<text class="lab" transform="translate(1161.5,1190.2) scale(1.085,1)" font-size="63" text-anchor="middle"><tspan class="it">t</tspan> (min)</text>
<text class="lab" transform="translate(74,894.2) rotate(-90) scale(1.029,1)" word-spacing="-4">Fraction Survival</text>
<text class="lab" transform="translate(74,401.5) rotate(-90) scale(0.91,1)">(<tspan class="it">P</tspan><tspan font-size="43" dy="17">C</tspan><tspan dy="-17">)</tspan></text>
</svg>
</body>
</html>
